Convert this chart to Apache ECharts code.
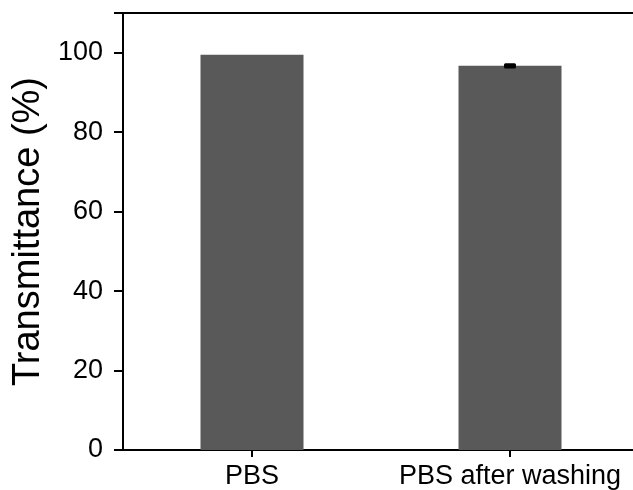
<!DOCTYPE html>
<html>
<head>
<meta charset="utf-8">
<script src="https://cdn.jsdelivr.net/npm/echarts@6/dist/echarts.min.js"></script>
<style>
  body { margin: 0; background: #fff; }
  #main { width: 633px; height: 490px; }
</style>
</head>
<body>
<div id="main"></div>
<script>
// data
const categories = ["PBS", "PBS after washing"];
const transmittance = [99.5, 96.7];
const errors = [0, 0.65];
const yTicks = [0, 20, 40, 60, 80, 100];

var myChart = echarts.init(document.getElementById("main"));

const errData = categories.map((c, i) => [i, transmittance[i], errors[i]]);

function renderError(params, api) {
  const x = api.value(0);
  const v = api.value(1);
  const e = api.value(2);
  if (!e) return;
  const top = api.coord([x, v + e]);
  const bot = api.coord([x, v - e]);
  return {
    type: "rect",
    shape: { x: top[0] - 6, y: top[1], width: 12, height: bot[1] - top[1], r: 1.5 },
    style: { fill: "#000" },
    z2: 10
  };
}

const font = "Liberation Sans, Arial, sans-serif";

const option = {
  animation: false,
  backgroundColor: "#fff",
  grid: {
    left: 123, top: 13, bottom: 40, right: -6,
    show: true, borderColor: "#000", borderWidth: 2,
    outerBoundsMode: "none"
  },
  xAxis: {
    type: "category",
    data: categories,
    boundaryGap: true,
    axisLine: { show: true, lineStyle: { color: "#000", width: 2 } },
    axisTick: { show: true, interval: 0, alignWithLabel: true, length: 7, lineStyle: { color: "#000", width: 2 } },
    axisLabel: { color: "#000", fontSize: 27, fontFamily: font, margin: 13, interval: 0, hideOverlap: false }
  },
  yAxis: {
    type: "value",
    min: 0,
    max: 110,
    interval: 20,
    name: "Transmittance (%)",
    nameLocation: "middle",
    nameGap: 70,
    nameTextStyle: { color: "#000", fontSize: 38, fontFamily: font },
    splitLine: { show: false },
    axisLine: { show: true, lineStyle: { color: "#000", width: 2 } },
    axisTick: { show: true, length: 9, lineStyle: { color: "#000", width: 2 } },
    axisLabel: {
      color: "#000", fontSize: 27, fontFamily: font, margin: 20,
      customValues: yTicks
    }
  },
  series: [
    {
      type: "bar",
      data: transmittance,
      barWidth: 103,
      itemStyle: { color: "#595959" }
    },
    {
      type: "custom",
      data: errData,
      renderItem: renderError,
      z: 5
    }
  ]
};

myChart.setOption(option);
console.log("chart drawn");
</script>
</body>
</html>
